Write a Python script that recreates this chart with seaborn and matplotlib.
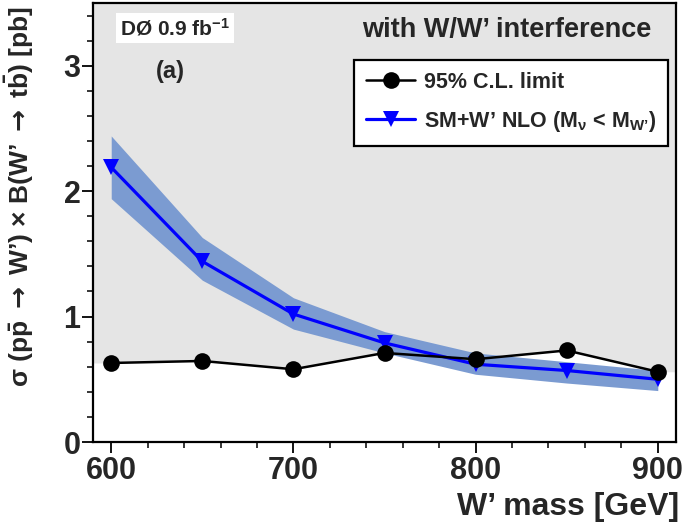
import numpy as np
import pandas as pd
import matplotlib
matplotlib.use("Agg")
import matplotlib.pyplot as plt
import seaborn as sns
from matplotlib.ticker import MultipleLocator
from matplotlib.lines import Line2D

# ---- data ----
masses = [600, 650, 700, 750, 800, 850, 900]
limit = [0.63, 0.646, 0.58, 0.71, 0.66, 0.73, 0.56]
theory = [2.19, 1.44, 1.02, 0.79, 0.62, 0.57, 0.50]
theory_lo = [1.94, 1.29, 0.90, 0.71, 0.54, 0.47, 0.41]
theory_hi = [2.44, 1.63, 1.15, 0.88, 0.71, 0.64, 0.57]
xticks = [600, 700, 800, 900]
yticks = [0, 1, 2, 3]
label_limit = "95% C.L. limit"
label_theory = r"SM+W’ NLO (M$_{\mathrm{\nu}}$ < M$_{\mathbf{W’}}$)"

sns.set_theme(style="white")
plt.rcParams['font.family'] = ['Liberation Sans', 'DejaVu Sans']
plt.rcParams['font.weight'] = 'bold'
plt.rcParams['mathtext.fontset'] = 'custom'
plt.rcParams['mathtext.rm'] = 'Liberation Sans'
plt.rcParams['mathtext.it'] = 'Liberation Sans:italic'
plt.rcParams['mathtext.bf'] = 'Liberation Sans:bold'
plt.rcParams['mathtext.sf'] = 'DejaVu Sans'

df = pd.DataFrame({"mass": masses, "limit": limit, "theory": theory})

fig = plt.figure(figsize=(6.85, 5.31), dpi=100)
ax = fig.add_axes([93/685, 1-442/531, (676-93)/685, (442-3)/531])
ax.set_xlim(590, 910)
ax.set_ylim(0, 3.5)

# excluded (grey) region above the limit
x0, x1 = ax.get_xlim()
xf = [x0] + masses + [x1]
yf = [limit[0]] + limit + [limit[-1]]
ax.fill_between(xf, yf, ax.get_ylim()[1], color="#e5e5e5", lw=0, zorder=0)

# theory band
ax.fill_between(masses, theory_lo, theory_hi, color="#7b9bd1", lw=0, zorder=1)

sns.lineplot(data=df, x="mass", y="theory", ax=ax, color="#0000ff", lw=2.3,
             marker="v", markersize=11, markeredgewidth=0, zorder=2)
sns.lineplot(data=df, x="mass", y="limit", ax=ax, color="black", lw=1.8,
             marker="o", markersize=12, markeredgewidth=0, zorder=3)

ax.set_facecolor("white")
for s in ax.spines.values():
    s.set_color("black")
    s.set_linewidth(1.6)
    s.set_zorder(5)

ax.set_xticks(xticks)
ax.set_yticks(yticks)
ax.xaxis.set_minor_locator(MultipleLocator(20))
ax.yaxis.set_minor_locator(MultipleLocator(0.2))
ax.tick_params(axis="both", which="major", direction="out", length=8, width=1.3,
               labelsize=22, color="black", bottom=True, left=True, top=False, right=False)
ax.tick_params(axis="both", which="minor", direction="out", length=4.5, width=1.1,
               color="black", bottom=True, left=True, top=False, right=False)
ax.tick_params(axis="y", which="major", pad=1)
ax.tick_params(axis="x", which="major", pad=2)
for t in ax.get_xticklabels() + ax.get_yticklabels():
    t.set_fontweight("bold")

ax.set_xlabel("W’ mass [GeV]", fontsize=23, fontweight="bold", loc="right")
ax.xaxis.set_label_coords(1.005, -0.115)
ax.set_ylabel(r"$\mathrm{\sigma}$ (p$\bar{\mathbf{p}}$ $\mathsf{\rightarrow}$ W’) × "
              r"B(W’ $\mathsf{\rightarrow}$ t$\bar{\mathbf{b}}$) [pb]",
              fontsize=19, fontweight="bold", loc="top")
ax.yaxis.set_label_coords(-0.097, 0.993)

ax.text(175/685, 1-28/531, r"DØ 0.9 fb$^{\mathbf{-1}}$", transform=fig.transFigure,
        fontsize=15, fontweight="bold", ha="center", va="center",
        bbox=dict(facecolor="white", edgecolor="none", pad=3))
ax.text(170/685, 1-71/531, "(a)", transform=fig.transFigure, fontsize=17,
        fontweight="bold", ha="center", va="center")
ax.text(507/685, 1-30/531, "with W/W’ interference", transform=fig.transFigure,
        fontsize=19.5, fontweight="bold", ha="center", va="center")

handles = [Line2D([], [], color="black", lw=1.8, marker="o", markersize=12, markeredgewidth=0),
           Line2D([], [], color="#0000ff", lw=2.3, marker="v", markersize=11, markeredgewidth=0)]
leg = ax.legend(handles, [label_limit, label_theory], loc="upper right",
                bbox_to_anchor=((668-93)/583, (442-60)/439), fontsize=15.5,
                frameon=True, fancybox=False, framealpha=1, edgecolor="black",
                handlelength=2.3, handletextpad=0.4, labelspacing=0.75,
                borderpad=0.55, borderaxespad=0)
leg.get_frame().set_linewidth(1.6)
for t in leg.get_texts():
    t.set_fontweight("bold")
leg.set_zorder(6)

fig.savefig("out.png", dpi=100)
